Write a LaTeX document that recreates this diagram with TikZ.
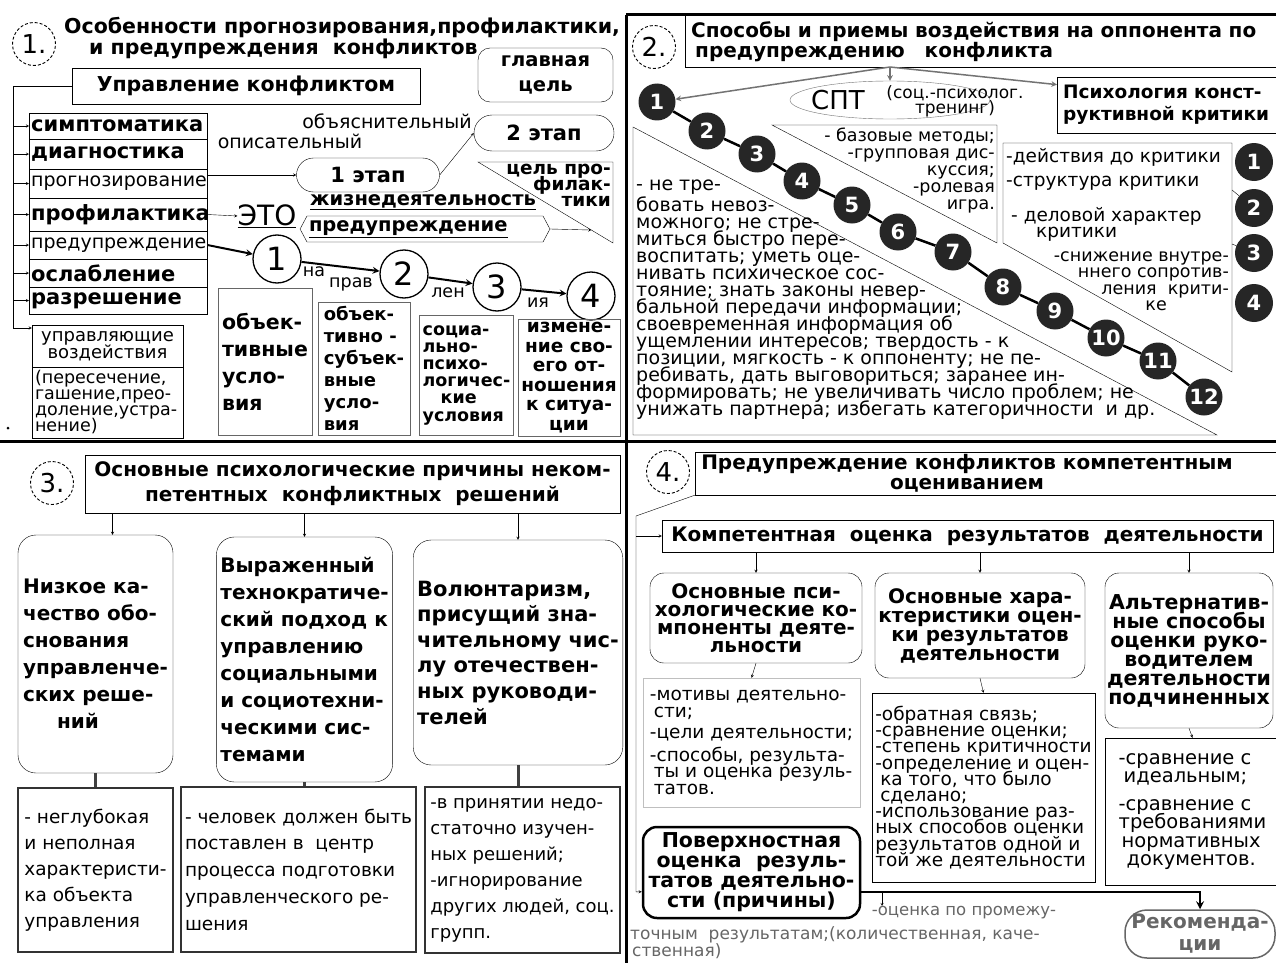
\documentclass[tikz,border=0pt]{standalone}
\usepackage{fontspec}
\setmainfont{DejaVu Sans}
\usepackage{tikz}
\usetikzlibrary{shapes,arrows,calc}
\usetikzlibrary{positioning}
\newcommand{\fsz}[2]{\fontsize{#1}{#2}\selectfont\lineskiplimit=-50pt}
\tikzstyle{pbox}=[draw, rectangle, inner sep=3pt]
\tikzstyle{prow}=[pbox, anchor=west, inner sep=2pt, text width=174pt, align=left]
\tikzstyle{rbox}=[draw, rounded corners=14pt, inner sep=4pt]
\tikzstyle{cond}=[draw=black!60, rectangle, inner sep=3pt, align=left]
\tikzstyle{pframe}=[draw=black!80, line width=2.5pt, inner sep=4pt, align=left]
\tikzstyle{numc}=[draw, circle, densely dashed, line width=0.9pt, inner sep=0pt, minimum size=43pt, font=\fsz{26}{26}]
\tikzstyle{ring}=[draw, circle, line width=1.3pt, inner sep=0pt, minimum size=48pt, font=\fsz{32}{32}]
\tikzstyle{ball}=[circle, fill=black!85, text=white, inner sep=0pt, minimum size=37pt, font=\bfseries\fsz{21}{21}]
\tikzstyle{myarrow}=[->, >=stealth]
\tikzstyle{fatarrow}=[myarrow, line width=2pt]
\tikzstyle{garrow}=[myarrow, draw=black!55, line width=1.5pt]
\tikzstyle{txt}=[inner sep=0pt, align=left]
\begin{document}
\begin{tikzpicture}[x=1pt, y=-1pt]
\useasboundingbox (0,0) rectangle (1276,963);
\fill[white] (0,0) rectangle (1276,963);
\clip (0,0) rectangle (1276,963);

% 1. prognoz
\node[numc] (c1) at (34,44) {1.};
\node[txt, anchor=north west, font=\bfseries\fsz{20.5}{21}] (Q1T) at (64,17) {Особенности прогнозирования,профилактики,\\\hspace*{25pt}и предупреждения~~конфликтов};
\node[pbox, minimum width=348pt, minimum height=36pt, font=\bfseries\fsz{20.5}{20}] (U) at (246,86) {Управление конфликтом};

\node[prow, minimum height=26pt, font=\bfseries\fsz{21}{21}] (r1) at (29,126) {симптоматика};
\node[prow, minimum height=30pt, font=\bfseries\fsz{21}{21}] (r2) at (29,154) {диагностика};
\node[prow, minimum height=29pt, font=\fsz{19}{19}] (r3) at (29,183.5) {прогнозирование};
\node[prow, minimum height=33pt, font=\bfseries\fsz{21}{21}] (r4) at (29,214.5) {профилактика};
\node[prow, minimum height=28pt, font=\fsz{19}{19}] (r5) at (29,245) {предупреждение};
\node[prow, minimum height=28pt, font=\bfseries\fsz{21}{21}] (r6) at (29,273) {ослабление};
\node[prow, minimum height=27pt, font=\bfseries\fsz{21}{21}] (r7) at (29,300.5) {разрешение};

\node[pbox, minimum width=151pt, minimum height=42pt, align=center, font=\fsz{18}{17}] (V1) at (107.5,346) {управляющие\\воздействия};
\node[pbox, minimum width=151pt, minimum height=71pt, text width=145pt, align=left, font=\fsz{17.5}{16}] (V2) at (107.5,402.5) {(пересечение,\\гашение,прео-\\доление,устра-\\нение)};
\fill (8,428) circle (1.5pt);

\coordinate (lft) at (13,328);
\draw (U.west) -| (lft);
\draw[myarrow] (lft) -- (lft -| V1.west);
\draw[myarrow] (lft |- r1.west) -- (r1.west);
\draw[myarrow] (lft |- r2.west) -- (r2.west);
\draw[myarrow] (lft |- r3.west) -- (r3.west);
\draw[myarrow] (lft |- r4.west) -- (r4.west);
\draw[myarrow] (lft |- r5.west) -- (r5.west);
\draw[myarrow] (lft |- r6.west) -- (r6.west);
\draw[myarrow] (lft |- r7.west) -- (r7.west);

\node[txt, font=\fsz{19}{19}] (O1) at (387,121) {объяснительный};
\node[txt, font=\fsz{19}{19}] (O2) at (290,141) {описательный};
\node[rbox, rounded corners=17pt, minimum width=143pt, minimum height=34pt, font=\bfseries\fsz{21}{21}] (E1) at (368,175) {1 этап};
\node[rbox, rounded corners=18pt, minimum width=140pt, minimum height=36pt, font=\bfseries\fsz{21}{21}] (E2) at (544,133) {2 этап};
\node[rbox, rounded corners=12pt, minimum width=135pt, minimum height=54pt, align=center, font=\bfseries\fsz{19.5}{25}] (G) at (545.5,75) {главная\\цель};
\draw[myarrow] (r3.north east) |- (E1.west);
\draw[myarrow] (E1.east) -- (E2.west);

\coordinate (T1) at (478,162);
\coordinate (T2) at (613,162);
\coordinate (T3) at (613,243);
\draw (T1) -- (T2) -- (T3) -- cycle;
\node[txt, anchor=north east, align=right, font=\bfseries\fsz{18.5}{16}] (Tt) at (611,164) {цель про-\\филак-\\тики};

\node[txt, font=\fsz{28}{28}] (ET) at (267,216) {\underline{ЭТО}};
\draw[myarrow] (r4.east) -- (ET.west);
\node[txt, font=\bfseries\fsz{19.5}{19}] (ZH) at (423,202) {\underline{жизнедеятельность}};
\node[draw, signal, signal to=east and west, signal pointer angle=124, minimum height=26pt, text width=232pt, inner sep=2pt, align=left, font=\bfseries\fsz{19.5}{19}] (P) at (425,229) {\underline{предупреждение}};
\coordinate (hy) at ($(T1)!0.84!(T3)$);
\draw[myarrow] (P.east) -- (hy);

\node[ring] (N1) at (277,259) {1};
\node[ring] (N2) at (404,274) {2};
\node[ring] (N3) at (497,287) {3};
\node[ring] (N4) at (591,296) {4};
\draw[fatarrow] (r5.east) -- (N1);
\draw[fatarrow] (N1) -- (N2);
\draw[fatarrow] (N2) -- (N3);
\draw[fatarrow] (N3) -- (N4);
\node[txt, font=\fsz{17.5}{17}] (la) at (314,272) {на};
\node[txt, font=\fsz{17.5}{17}] (lb) at (351,284) {прав};
\node[txt, font=\fsz{17.5}{17}] (lc) at (448,293) {лен};
\node[txt, font=\fsz{17.5}{17}] (ld) at (538,303) {ия};

\node[cond, minimum width=94pt, minimum height=147pt, font=\bfseries\fsz{20.5}{27}] (CA) at (265,361.5) {объек-\\тивные\\усло-\\вия};
\node[cond, minimum width=92pt, minimum height=133pt, font=\bfseries\fsz{18}{22}] (CB) at (364,368.5) {объек-\\тивно -\\субъек-\\вные\\усло-\\вия};
\node[cond, minimum width=93pt, minimum height=120pt, font=\bfseries\fsz{17.5}{17.2}] (CC) at (466.5,375) {социа-\\льно-\\психо-\\логичес-\\\hspace*{18pt}кие\\условия};
\node[cond, minimum width=102pt, minimum height=115pt, align=center, font=\bfseries\fsz{18.5}{19.5}] (CD) at (569,377.5) {измене-\\ние сво-\\его от-\\ношения\\к ситуа-\\ции};

% 2. sposoby
\node[numc] (c2) at (654,47) {2.};
\node[pbox, anchor=north west, minimum width=605pt, minimum height=52pt, text width=593pt, inner sep=6pt, align=left, font=\bfseries\fsz{20}{20}] (Q2T) at (685,15) {Способы и приемы воздействия на оппонента по\\\hspace*{4pt}предупреждению~~~конфликта};
\coordinate (q2o) at (890,67);
\node[draw=black!55, ellipse, minimum width=200pt, minimum height=38pt] (S) at (890,100) {};
\node[txt, font=\fsz{26}{26}] (SPT) at (838,100) {СПТ};
\node[txt, align=center, font=\fsz{17}{15}] (SPT2) at (955,101) {(соц.-психолог.\\тренинг)};
\node[pbox, anchor=north west, minimum width=233pt, minimum height=56pt, text width=221pt, inner sep=5pt, align=left, font=\bfseries\fsz{18.5}{22}] (PS) at (1057,77) {Психология конст-\\руктивной критики};

\draw (772,125) -- (997,125) -- (997,243) -- cycle;
\node[txt, anchor=north east, align=right, font=\fsz{17.5}{17}] (BMt) at (995,128) {- базовые методы;\\-групповая дис-\\куссия;\hspace*{22pt}\\-ролевая\hspace*{4pt}\\игра.};

\draw (633,127) -- (633,435) -- (1217,435) -- cycle;
\node[txt, anchor=north west, font=\fsz{19}{17}] (NT) at (636,180) {- не тре-\\[4pt]бовать невоз-\\можного; не стре-\\миться быстро пере-\\воспитать; уметь оце-\\нивать психическое сос-\\тояние; знать законы невер-\\бальной передачи информации;\\своевременная информация об\\ущемлении интересов; твердость - к\\позиции, мягкость - к оппоненту; не пе-\\ребивать, дать выговориться; заранее ин-\\формировать; не увеличивать число проблем; не\\унижать партнера; избегать категоричности~~и~др.};

\draw (1003,143) -- (1232,143) -- (1232,372) -- (1003,243) -- cycle;
\node[txt, anchor=west, font=\fsz{18.5}{16}] (R1) at (1006,157) {-действия до критики};
\node[txt, anchor=west, font=\fsz{18.5}{16}] (R2) at (1006,183) {-структура критики};
\node[txt, anchor=north west, font=\fsz{18.5}{16}] (R3) at (1011,207) {- деловой характер\\\hspace*{25pt}критики};
\node[txt, anchor=north east, align=right, font=\fsz{17.5}{16.5}] (R4) at (1229,251) {-снижение внутре-\\ннего сопротив-\\ления~~крити-\\ке\hspace*{62pt}};

\node[ball, minimum size=38pt] (K1) at (1254,162) {1};
\node[ball, minimum size=38pt] (K2) at (1254,208) {2};
\node[ball, minimum size=38pt] (K3) at (1254,253) {3};
\node[ball, minimum size=38pt] (K4) at (1254,303) {4};
\coordinate (rk2) at (1232,190);
\coordinate (rk3) at (1232,244);
\draw (rk2) -- (K2);
\draw (rk3) -- (K3);

\node[ball] (B1) at (657,102) {1};
\node[ball] (B2) at (707,131) {2};
\node[ball] (B3) at (757,154) {3};
\node[ball] (B4) at (802,181) {4};
\node[ball] (B5) at (852,205) {5};
\node[ball] (B6) at (898,232) {6};
\node[ball] (B7) at (953,252) {7};
\node[ball] (B8) at (1003,287) {8};
\node[ball] (B9) at (1055,311) {9};
\node[ball] (B10) at (1106,338) {10};
\node[ball] (B11) at (1158,361) {11};
\node[ball] (B12) at (1204,397) {12};
\draw[line width=2.5pt] (B1) -- (B2) -- (B3) -- (B4) -- (B5) -- (B6) -- (B7) -- (B8) -- (B9) -- (B10) -- (B11) -- (B12);

\draw[garrow] (q2o) -- (B1);
\draw[garrow] (q2o) -- (PS.170);
\draw[garrow] (q2o) -- (S.north);

% 3. prichiny
\node[numc] (c3) at (52,483) {3.};
\node[pbox, minimum width=535pt, minimum height=58pt, align=center, font=\bfseries\fsz{20}{25}] (Q3T) at (352.5,484) {Основные психологические причины неком-\\петентных~~конфликтных~~решений};
\node[rbox, rounded corners=18pt, minimum width=155pt, minimum height=238pt, align=left, font=\bfseries\fsz{20}{27}] (RB1) at (95.5,654) {Низкое ка-\\чество обо-\\снования\\управленче-\\ских реше-\\\hspace*{34pt}ний};
\node[rbox, rounded corners=18pt, minimum width=175pt, minimum height=245pt, align=left, font=\bfseries\fsz{20}{27}] (RB2) at (304.5,659.5) {Выраженный\\технократиче-\\ский подход к\\управлению\\социальными\\и социотехни-\\ческими сис-\\темами};
\node[rbox, rounded corners=18pt, minimum width=200pt, minimum height=225pt, align=left, font=\bfseries\fsz{21}{25.6}] (RB3) at (518,652.5) {Волюнтаризм,\\присущий зна-\\чительному чис-\\лу отечествен-\\ных руководи-\\телей};
\draw[myarrow] ($(RB1.north |- Q3T.south)+(17,0)$) -- ($(RB1.north)+(17,0)$);
\draw[myarrow] (RB2.north |- Q3T.south) -- (RB2.north);
\draw[myarrow] (RB3.north |- Q3T.south) -- (RB3.north);

\node[pframe, minimum width=155pt, minimum height=164pt, font=\fsz{18.5}{26}] (L1) at (95.5,870) {- неглубокая\\и неполная\\характеристи-\\ка объекта\\управления};
\node[pframe, minimum width=233pt, minimum height=165pt, font=\fsz{18.5}{26.75}] (L2) at (298.5,869.5) {- человек должен быть\\поставлен в~~центр\\процесса подготовки\\управленческого ре-\\шения};
\node[pframe, minimum width=195pt, minimum height=166pt, font=\fsz{18}{26}] (L3) at (522.5,870) {-в принятии недо-\\статочно изучен-\\ных решений;\\-игнорирование\\других людей, соц.\\групп.};
\draw[line width=3pt, black!75] (RB1.south) -- (RB1.south |- L1.north);
\draw[line width=3pt, black!75] (RB2.south) -- (RB2.south |- L2.north);
\draw[line width=3pt, black!75] (RB3.south) -- (RB3.south |- L3.north);

% 4. ocenivanie
\node[numc] (c4) at (668,472) {4.};
\node[pbox, minimum width=595pt, minimum height=43pt] (Q4T) at (992.5,473.5) {};
\node[txt, align=center, font=\bfseries\fsz{20}{20}] (Q4t) at (967,473) {Предупреждение конфликтов компетентным\\оцениванием};
\node[pbox, minimum width=611pt, minimum height=32pt, font=\bfseries\fsz{20}{20}] (KO) at (967.5,536) {Компетентная~~оценка~~результатов~~деятельности};

\node[rbox, minimum width=212pt, minimum height=90pt, inner sep=3pt, align=center, font=\bfseries\fsz{20}{18}] (QA) at (756,618) {Основные пси-\\хологические ко-\\мпоненты деяте-\\льности};
\node[rbox, minimum width=210pt, minimum height=105pt, inner sep=3pt, align=center, font=\bfseries\fsz{20}{19}] (QB) at (980,625.5) {Основные хара-\\ктеристики оцен-\\ки результатов\\деятельности};
\node[rbox, minimum width=168pt, minimum height=155pt, inner sep=2pt, align=center, font=\bfseries\fsz{20.5}{19}] (QC) at (1189,650.5) {Альтернатив-\\ные способы\\оценки руко-\\водителем\\деятельности\\подчиненных};
\draw[myarrow] (QA.north |- KO.south) -- (QA.north);
\draw[myarrow] (QB.north |- KO.south) -- (QB.north);
\draw[myarrow] (QC.north |- KO.south) -- (QC.north);

\node[pbox, draw=black!25, minimum width=217pt, minimum height=129pt, align=left, font=\fsz{18.5}{16.5}] (LA) at (751.5,742.5) {-мотивы деятельно-\\\hspace*{4pt}сти;\\[5pt]-цели деятельности;\\[6pt]-способы, результа-\\\hspace*{4pt}ты и оценка резуль-\\\hspace*{4pt}татов.};
\node[pbox, minimum width=223pt, minimum height=189pt, align=left, font=\fsz{18.5}{16.2}] (LB) at (983.5,787.5) {-обратная связь;\\-сравнение оценки;\\-степень критичности\\-определение и оцен-\\\hspace*{5pt}ка того, что было\\\hspace*{5pt}сделано;\\-использование раз-\\ных способов оценки\\результатов одной и\\той же деятельности};
\node[pbox, minimum width=175pt, minimum height=147pt, align=left, font=\fsz{19.5}{18.5}] (LC) at (1192.5,811.5) {-сравнение с\\\hspace*{5pt}идеальным;\\[9pt]-сравнение с\\требованиями\\\hspace*{3pt}нормативных\\\hspace*{8pt}документов.};
\draw[myarrow] (QA.south) -- (LA.north);
\draw[myarrow] (QB.south) -- (LB.north);
\draw[myarrow] (QC.south) -- (LC.north);

\node[rbox, line width=2.5pt, minimum width=217pt, minimum height=91pt, inner sep=3pt, align=center, font=\bfseries\fsz{20.5}{20}] (PV) at (751.5,872.5) {Поверхностная\\оценка~~резуль-\\татов деятельно-\\сти (причины)};
\node[rbox, draw=black!60, text=black!60, line width=1.5pt, rounded corners=22pt, minimum width=150pt, minimum height=48pt, align=center, font=\bfseries\fsz{20}{22}] (RK) at (1200,934) {Рекоменда-\\ции};

\coordinate (q4a) at (636,516);
\draw[myarrow] (Q4T.south west) -- (q4a) |- (PV.190);
\draw[myarrow] (q4a |- KO.west) -- (KO.west);
\draw[myarrow, line width=2.5pt] (PV.-10) -| (RK.north);
\coordinate (q4b) at (882,893);
\coordinate (q4d) at (882,906);
\draw[myarrow] (q4b) -- (q4d);

\node[txt, text=black!60, font=\fsz{16.5}{17}] (TE1) at (964,913) {-оценка по промежу-};
\node[txt, anchor=north west, text=black!60, font=\fsz{17}{17}] (TE2) at (630,926) {точным~~результатам;(количественная, каче-\\\hspace*{2pt}ственная)};

% rama
\draw[line width=3pt] (626,15) -- (626,963);
\draw[line width=3pt] (626,15) -- (1276,15);
\draw[line width=3pt] (0,441) -- (1276,441);
\end{tikzpicture}
\end{document}
